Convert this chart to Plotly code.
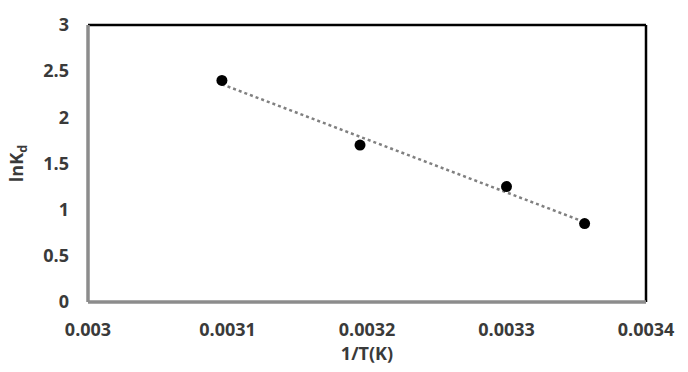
import numpy as np
import plotly.graph_objects as go

inv_T = [0.003096, 0.003195, 0.003300, 0.003356]
ln_Kd = [2.40, 1.70, 1.25, 0.85]
x_ticks = [0.003, 0.0031, 0.0032, 0.0033, 0.0034]
x_tick_labels = ["0.003", "0.0031", "0.0032", "0.0033", "0.0034"]
y_ticks = [0, 0.5, 1, 1.5, 2, 2.5, 3]
y_tick_labels = ["0", "0.5", "1", "1.5", "2", "2.5", "3"]

slope, intercept = np.polyfit(inv_T, ln_Kd, 1)
fit_x = [min(inv_T), max(inv_T)]
fit_y = [slope * v + intercept for v in fit_x]

fig = go.Figure()
fig.add_trace(go.Scatter(x=fit_x, y=fit_y, mode="lines",
                         line=dict(color="#808080", width=2.5, dash="dot"),
                         showlegend=False, hoverinfo="skip"))
fig.add_trace(go.Scatter(x=inv_T, y=ln_Kd, mode="markers",
                         marker=dict(color="black", size=11),
                         showlegend=False))

tick_font = dict(family="Open Sans", size=18, color="#3a3a3a", weight="bold")

fig.update_layout(
    width=688, height=372,
    margin=dict(l=88, r=42, t=15, b=67),
    paper_bgcolor="white", plot_bgcolor="white",
    xaxis=dict(range=[0.003, 0.0034], tickvals=x_ticks, ticktext=x_tick_labels,
               showgrid=False, zeroline=False, showline=False,
               tickfont=tick_font, ticklabelstandoff=15,
               title=dict(text="1/T(K)", font=tick_font, standoff=6)),
    yaxis=dict(range=[0, 3], tickvals=y_ticks, ticktext=y_tick_labels,
               showgrid=False, zeroline=False, showline=False,
               tickfont=tick_font, ticklabelstandoff=18,
               title=dict(text="lnK<sub>d</sub>", font=tick_font, standoff=14)),
    shapes=[
        dict(type="line", xref="paper", yref="paper", x0=0, x1=1, y0=1, y1=1,
             line=dict(color="black", width=2.5)),
        dict(type="line", xref="paper", yref="paper", x0=1, x1=1, y0=0, y1=1,
             line=dict(color="black", width=2.5)),
        dict(type="line", xref="paper", yref="paper", x0=0, x1=1, y0=0, y1=0,
             line=dict(color="#8c8c8c", width=3.5)),
        dict(type="line", xref="paper", yref="paper", x0=0, x1=0, y0=0, y1=1,
             line=dict(color="#8c8c8c", width=3.5)),
    ],
)

fig.write_html("out.html")
